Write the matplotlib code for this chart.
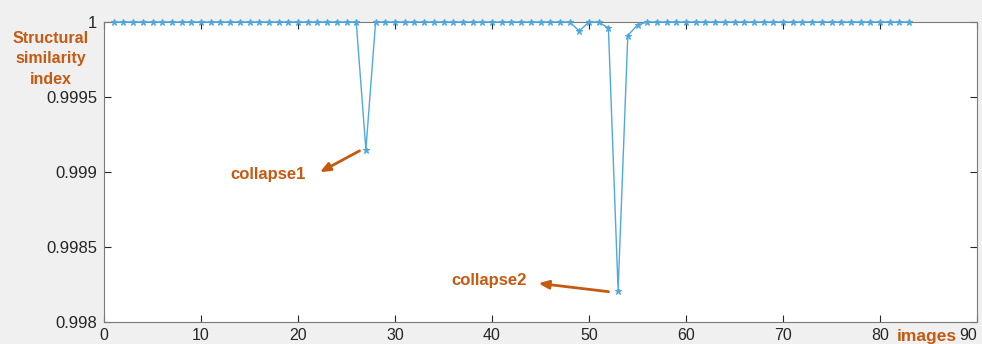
import matplotlib
matplotlib.use("Agg")
import matplotlib.pyplot as plt
import numpy as np

# Data
images = list(range(1, 84))
ssim = [1.0] * 83
dips = {27: 0.99915, 49: 0.99994, 52: 0.99996, 53: 0.99821, 54: 0.99991, 55: 0.99998}
for k, v in dips.items():
    ssim[k - 1] = v

xticks = [0, 10, 20, 30, 40, 50, 60, 70, 80, 90]
yticks = [0.998, 0.9985, 0.999, 0.9995, 1.0]
ytick_labels = ["0.998", "0.9985", "0.999", "0.9995", "1"]

orange = "#C55A11"
blue = "#4FA9DE"

plt.rcParams['font.family'] = ['Liberation Sans', 'DejaVu Sans']

fig = plt.figure(figsize=(9.82, 3.44), dpi=100)
fig.patch.set_facecolor("#F0F0F0")
ax = fig.add_axes([104 / 982, 22 / 344, 873 / 982, 300 / 344])
ax.set_facecolor("white")

ax.plot(images, ssim, color=blue, lw=1.0, marker="*", markersize=5,
        markeredgewidth=0.8, clip_on=False, zorder=3)

ax.set_xlim(0, 90)
ax.set_ylim(0.998, 1.0)
ax.set_xticks(xticks)
ax.set_xticklabels([str(t) for t in xticks])
ax.set_yticks(yticks)
ax.set_yticklabels(ytick_labels)
ax.tick_params(direction="in", length=5, width=0.8, top=True, right=True,
               labelsize=12, colors="#262626", pad=5)
ax.tick_params(axis="x", pad=4, labelsize=11.5)
ax.get_xticklabels()[-1].set_horizontalalignment("right")
for s in ax.spines.values():
    s.set_color("#7a7a7a")
    s.set_linewidth(0.8)

# Annotations
ax.annotate("", xy=(22.0, 0.99899), xytext=(26.6, 0.99915),
            arrowprops=dict(arrowstyle="-|>,head_length=0.6,head_width=0.25",
                            color=orange, lw=2))
ax.text(20.8, 0.99898, "collapse1", color=orange, fontsize=12,
        fontweight="bold", ha="right", va="center")
ax.annotate("", xy=(44.5, 0.99826), xytext=(52.3, 0.99820),
            arrowprops=dict(arrowstyle="-|>,head_length=0.6,head_width=0.25",
                            color=orange, lw=2))
ax.text(43.6, 0.99828, "collapse2", color=orange, fontsize=12,
        fontweight="bold", ha="right", va="center")

fig.text(51 / 982, 1 - 59 / 344, "Structural\nsimilarity\nindex", color=orange,
         fontsize=11.5, fontweight="bold", ha="center", va="center", linespacing=1.45)
fig.text(927 / 982, 1 - 336 / 344, "images", color=orange, fontsize=12.5,
         fontweight="bold", ha="center", va="center")

fig.savefig("out.png", dpi=100, facecolor=fig.get_facecolor())
